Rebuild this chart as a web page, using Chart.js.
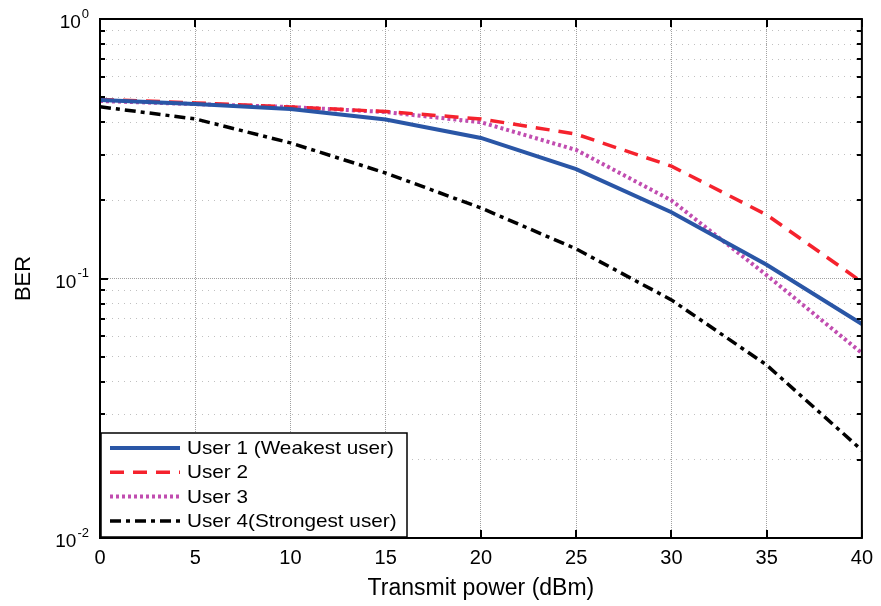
<!DOCTYPE html>
<html lang="en">
<head>
    <meta charset="utf-8">
    <!-- Include Chart.js -->
    <script src="https://cdn.jsdelivr.net/npm/chart.js"></script>
    <style>
        body { margin: 0; background: #ffffff; }
        #wrap { width: 881px; height: 606px; }
    </style>
</head>
<body>
    <div id="wrap"><canvas id="berChart"></canvas></div>
    <script>
        // Data
        const power = [0, 5, 10, 15, 20, 25, 30, 35, 40];
        const user1 = [0.487, 0.470, 0.450, 0.410, 0.348, 0.264, 0.180, 0.113, 0.0668];
        const user2 = [0.490, 0.475, 0.458, 0.440, 0.412, 0.360, 0.271, 0.176, 0.097];
        const user3 = [0.483, 0.470, 0.458, 0.438, 0.400, 0.313, 0.200, 0.103, 0.0516];
        const user4 = [0.459, 0.412, 0.333, 0.255, 0.187, 0.130, 0.0827, 0.0464, 0.0218];
        const seriesNames = ['User 1 (Weakest user)', 'User 2', 'User 3', 'User 4(Strongest user)'];
        const xTicks = [0, 5, 10, 15, 20, 25, 30, 35, 40];
        const decades = [0.01, 0.1, 1];
        const decadeExp = ['-2', '-1', '0'];

        // all log ticks (minor 2..9 per decade + decades)
        const yTicks = [];
        decades.forEach((d, i) => {
            yTicks.push(d);
            if (i < decades.length - 1) {
                for (let m = 2; m <= 9; m++) yTicks.push(+(d * m).toPrecision(3));
            }
        });

        const FONT = 'Arial, "Liberation Sans", Helvetica, sans-serif';
        Chart.defaults.font.family = FONT;
        Chart.defaults.color = '#000';

        // box, inward ticks and superscript y labels
        const framePlugin = {
            id: 'frame',
            afterDatasetsDraw(chart) {
                const {ctx, chartArea: a, scales: {x, y}} = chart;
                ctx.save();
                ctx.strokeStyle = '#000';
                ctx.lineWidth = 2;
                ctx.beginPath();
                yTicks.forEach(v => {
                    const py = Math.round(y.getPixelForValue(v));
                    const len = decades.includes(v) ? 8 : 5;
                    ctx.moveTo(a.left, py); ctx.lineTo(a.left + len, py);
                    ctx.moveTo(a.right, py); ctx.lineTo(a.right - len, py);
                });
                xTicks.forEach(v => {
                    const px = Math.round(x.getPixelForValue(v));
                    ctx.moveTo(px, a.bottom); ctx.lineTo(px, a.bottom - 8);
                    ctx.moveTo(px, a.top); ctx.lineTo(px, a.top + 8);
                });
                ctx.stroke();
                ctx.strokeRect(a.left, a.top, a.right - a.left, a.bottom - a.top);

                // y labels 10^n
                ctx.fillStyle = '#000';
                ctx.textBaseline = 'middle';
                decades.forEach((v, i) => {
                    const py = y.getPixelForValue(v);
                    ctx.font = '13px ' + FONT;
                    const ew = ctx.measureText(decadeExp[i]).width;
                    const right = a.left - 11;
                    ctx.textAlign = 'right';
                    ctx.fillText(decadeExp[i], right, py - 5);
                    ctx.font = '19px ' + FONT;
                    ctx.fillText('10', right - ew - 1, py + 4);
                });
                ctx.restore();
            }
        };

        const legendPlugin = {
            id: 'boxLegend',
            afterDatasetsDraw(chart) {
                const {ctx, chartArea: a} = chart;
                const bx = a.left + 1, by = 433, bw = 306, bh = 104;
                ctx.save();
                ctx.fillStyle = '#fff';
                ctx.fillRect(bx, by, bw, bh);
                ctx.strokeStyle = '#000';
                ctx.lineWidth = 1.5;
                ctx.strokeRect(bx, by, bw, bh);
                ctx.textBaseline = 'middle';
                ctx.textAlign = 'left';
                chart.data.datasets.forEach((ds, i) => {
                    const ly = by + 15 + i * 24.3;
                    ctx.strokeStyle = ds.borderColor;
                    ctx.lineWidth = ds.borderWidth;
                    ctx.setLineDash(ds.borderDash || []);
                    ctx.beginPath();
                    ctx.moveTo(bx + 9, ly);
                    ctx.lineTo(bx + 79, ly);
                    ctx.stroke();
                    ctx.setLineDash([]);
                    // text in the figure is a little wider than plain Arial
                    ctx.save();
                    ctx.translate(bx + 86, ly + 1);
                    ctx.scale(1.12, 1);
                    ctx.font = '18.5px ' + FONT;
                    ctx.fillStyle = '#000';
                    ctx.fillText(ds.label, 0, 0);
                    ctx.restore();
                });
                ctx.restore();
            }
        };

        function points(vals) {
            return power.map((p, i) => ({x: p, y: vals[i]}));
        }

        const ctx = document.getElementById('berChart').getContext('2d');
        new Chart(ctx, {
            type: 'line',
            data: {
                datasets: [
                    { label: seriesNames[0], data: points(user1), borderColor: '#2a56a6', borderWidth: 4, borderDash: [] },
                    { label: seriesNames[1], data: points(user2), borderColor: '#f5222d', borderWidth: 3.5, borderDash: [14, 9] },
                    { label: seriesNames[2], data: points(user3), borderColor: '#c14db0', borderWidth: 4, borderDash: [3, 3] },
                    { label: seriesNames[3], data: points(user4), borderColor: '#000000', borderWidth: 3.5, borderDash: [11, 5, 4, 5] }
                ]
            },
            options: {
                responsive: true,
                maintainAspectRatio: false,
                animation: false,
                devicePixelRatio: 1,
                layout: { padding: { top: 19, right: 19, left: 0, bottom: 0 } },
                elements: {
                    point: { radius: 0 },
                    line: { tension: 0, borderCapStyle: 'butt', fill: false }
                },
                plugins: {
                    legend: { display: false },
                    tooltip: { enabled: false }
                },
                scales: {
                    x: {
                        type: 'linear',
                        min: 0,
                        max: 40,
                        afterBuildTicks: s => { s.ticks = xTicks.map(v => ({value: v})); },
                        afterFit: s => { s.height = 68; },
                        ticks: { font: { size: 20 }, padding: 8, color: '#000', maxRotation: 0 },
                        grid: { color: '#a0a0a0', lineWidth: 1, drawTicks: false },
                        border: { display: false, dash: [1, 1] },
                        title: { display: true, text: 'Transmit power (dBm)', font: { size: 23 }, padding: { top: 0, bottom: 4 } }
                    },
                    y: {
                        type: 'logarithmic',
                        min: 0.01,
                        max: 1,
                        afterBuildTicks: s => { s.ticks = yTicks.map(v => ({value: v})); },
                        afterFit: s => { s.width = 100; },
                        ticks: { display: false },
                        grid: {
                            drawTicks: false,
                            lineWidth: 1,
                            color: c => decades.includes(c.tick && c.tick.value) ? '#a0a0a0' : '#c0c0c0'
                        },
                        border: { display: false, dash: c => decades.includes(c.tick && c.tick.value) ? [1, 1] : [1, 5] },
                        title: { display: true, text: 'BER', font: { size: 22 }, padding: { top: 11, bottom: 0 } }
                    }
                }
            },
            plugins: [framePlugin, legendPlugin]
        });
    </script>
</body>
</html>
